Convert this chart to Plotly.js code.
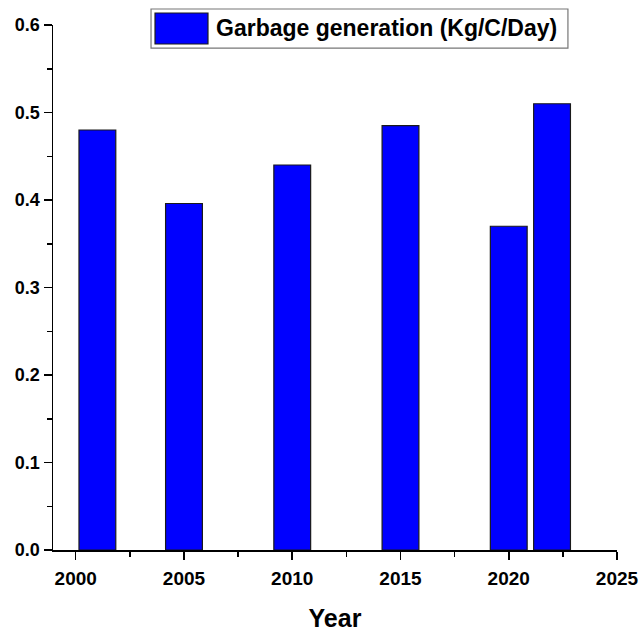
<!DOCTYPE html>
<html>
<head>
<meta charset="utf-8">
<script src="https://cdn.plot.ly/plotly-3.0.1.min.js"></script>
<style>html,body{margin:0;padding:0;background:#fff;}#chart{width:640px;height:632px;}</style>
</head>
<body>
<div id="chart"></div>
<script>
const years = [2001, 2005, 2010, 2015, 2020, 2022];
const garbage = [0.48, 0.396, 0.44, 0.485, 0.37, 0.51];
const seriesName = "Garbage generation (Kg/C/Day)";
const xTickVals = [2000, 2005, 2010, 2015, 2020, 2025];

const FONT = "'Liberation Sans', Arial, sans-serif";

const trace = {
  type: 'bar',
  x: years,
  y: garbage,
  width: 1.7,
  name: seriesName,
  marker: {color: '#0000FF', line: {color: '#1a1a1a', width: 1.2}},
  showlegend: false,
  hoverinfo: 'x+y'
};

const layout = {
  width: 640, height: 632,
  margin: {l: 53, r: 23, t: 25, b: 82},
  paper_bgcolor: '#fff', plot_bgcolor: '#fff',
  font: {family: FONT, color: '#000'},
  bargap: 0,
  xaxis: {
    range: [1998.95, 2025],
    tickvals: xTickVals,
    ticktext: xTickVals.map(String),
    ticks: 'outside', ticklen: 8, tickwidth: 1.5, tickcolor: '#000',
    ticklabelstandoff: 3,
    minor: {ticks: 'outside', ticklen: 5, tickwidth: 1.5, tickcolor: '#000', dtick: 2.5, tick0: 2000},
    showline: true, linecolor: '#000', linewidth: 1.5,
    showgrid: false, zeroline: false,
    tickfont: {family: FONT, size: 19, weight: 'bold', color: '#000'},
    title: {text: 'Year', font: {family: FONT, size: 25, weight: 'bold', color: '#000'}, standoff: 24}
  },
  yaxis: {
    range: [0, 0.6],
    dtick: 0.1, tick0: 0,
    tickformat: '.1f',
    ticks: 'outside', ticklen: 8, tickwidth: 1.5, tickcolor: '#000',
    minor: {ticks: 'outside', ticklen: 5, tickwidth: 1.5, tickcolor: '#000', dtick: 0.05},
    showline: true, linecolor: '#000', linewidth: 1.5,
    showgrid: false, zeroline: false,
    tickfont: {family: FONT, size: 18, weight: 'bold', color: '#000'}
  },
  shapes: [
    {type: 'rect', xref: 'paper', yref: 'paper', x0: 0.1738, x1: 0.913, y0: 0.956, y1: 1.0305,
     line: {color: '#777', width: 1.2}, fillcolor: '#fff'},
    {type: 'rect', xref: 'paper', yref: 'paper', x0: 0.1809, x1: 0.2748, y0: 0.9638, y1: 1.0229,
     line: {color: '#1a1a1a', width: 1.2}, fillcolor: '#0000FF'}
  ],
  annotations: [
    {xref: 'paper', yref: 'paper', x: 0.285, y: 0.9934, xanchor: 'left', yanchor: 'middle',
     text: seriesName, showarrow: false,
     font: {family: FONT, size: 23, weight: 'bold', color: '#000'}}
  ]
};

Plotly.newPlot('chart', [trace], layout, {displayModeBar: false, staticPlot: true});
</script>
</body>
</html>
